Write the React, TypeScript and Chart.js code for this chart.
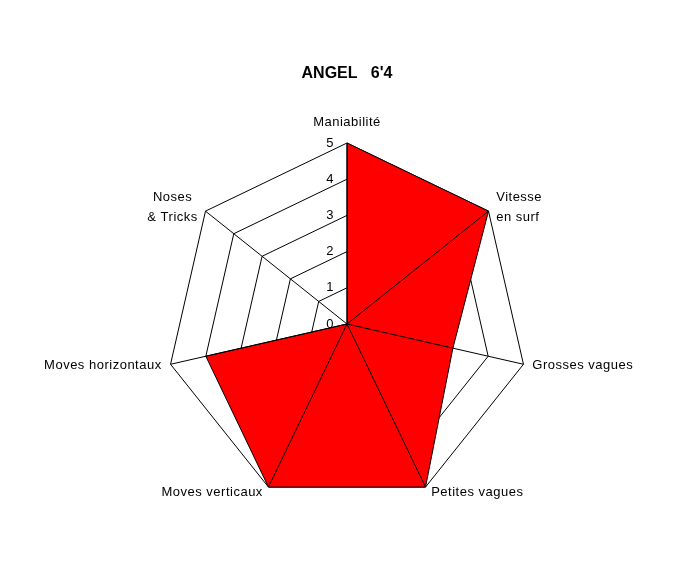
import React, { useEffect, useRef } from "react";
import { Chart, registerables } from "chart.js";

Chart.register(...registerables);

const TITLE = "ANGEL   6'4";
const CATEGORIES: string[][] = [
  ["Maniabilité"],
  ["Vitesse", "en surf"],
  ["Grosses vagues"],
  ["Petites vagues"],
  ["Moves verticaux"],
  ["Moves horizontaux"],
  ["Noses", "& Tricks"],
];
const VALUES = [5, 5, 3, 5, 5, 4, 0];
const TICKS = [0, 1, 2, 3, 4, 5];

const FONT = '"Liberation Sans", Arial, sans-serif';

const radarText = {
  id: "radarText",
  afterDatasetsDraw(chart: any) {
    // axis spokes drawn over the filled polygon
    const scale = chart.scales.r;
    const ctx = chart.ctx as CanvasRenderingContext2D;
    ctx.save();
    ctx.strokeStyle = "#000";
    ctx.lineWidth = 1;
    CATEGORIES.forEach((_, i) => {
      const p = scale.getPointPosition(i, scale.drawingArea);
      ctx.beginPath();
      ctx.moveTo(scale.xCenter, scale.yCenter);
      ctx.lineTo(p.x, p.y);
      ctx.stroke();
    });
    ctx.restore();
  },
  afterDraw(chart: any) {
    const scale = chart.scales.r;
    const ctx = chart.ctx as CanvasRenderingContext2D;
    ctx.save();
    ctx.fillStyle = "#000";
    ctx.font = `13px ${FONT}`;
    (ctx as any).letterSpacing = "0.5px";
    ctx.textBaseline = "middle";
    // tick labels along the first axis
    ctx.textAlign = "right";
    TICKS.forEach((t) => {
      const d = scale.getDistanceFromCenterForValue(t);
      const p = scale.getPointPosition(0, d);
      ctx.fillText(String(t), p.x - 13, p.y);
    });
    // category labels
    const lh = 20;
    CATEGORIES.forEach((lines, i) => {
      const v = scale.getPointPosition(i, scale.drawingArea);
      const a = scale.getIndexAngle(i);
      const s = Math.sin(a);
      const c = Math.cos(a);
      const n = lines.length;
      if (Math.abs(s) < 0.01) {
        const yMid = c > 0 ? v.y - 21 : v.y + 21;
        ctx.textAlign = "center";
        lines.forEach((ln, k) => {
          ctx.fillText(ln, v.x, yMid + (k - (n - 1) / 2) * lh);
        });
        return;
      }
      const x = v.x + s * 6 + Math.sign(s) * 3;
      const yMid = v.y - c * 6;
      if (s > 0) {
        ctx.textAlign = "left";
        lines.forEach((ln, k) => {
          ctx.fillText(ln, x, yMid + (k - (n - 1) / 2) * lh);
        });
      } else {
        const maxW = Math.max(...lines.map((ln) => ctx.measureText(ln).width));
        ctx.textAlign = "center";
        lines.forEach((ln, k) => {
          ctx.fillText(ln, x - maxW / 2, yMid + (k - (n - 1) / 2) * lh);
        });
      }
    });
    ctx.restore();
  },
};

export default function App() {
  const ref = useRef<HTMLCanvasElement | null>(null);
  useEffect(() => {
    if (!ref.current) return;
    Chart.defaults.font.family = FONT;
    const chart = new Chart(ref.current, {
      type: "radar",
      data: {
        labels: CATEGORIES,
        datasets: [
          {
            data: VALUES,
            backgroundColor: "#FF0000",
            borderColor: "#000000",
            borderWidth: 1,
            pointRadius: 0,
            pointHoverRadius: 0,
            fill: true,
          },
        ],
      },
      options: {
        animation: false,
        responsive: true,
        maintainAspectRatio: false,
        layout: { padding: { left: 158, right: 144, top: 56.4, bottom: 11.6 } },
        plugins: {
          legend: { display: false },
          tooltip: { enabled: false },
          title: {
            display: true,
            text: TITLE,
            color: "#000",
            font: { size: 16, weight: "bold", family: FONT, lineHeight: 1.2 },
            padding: { top: 0, bottom: 0 },
          },
        },
        scales: {
          r: {
            min: 0,
            max: 5,
            startAngle: 0,
            ticks: { display: false, stepSize: 1 },
            pointLabels: { display: false },
            grid: { color: "#000", lineWidth: 1 },
            angleLines: { display: false },
          },
        },
      },
      plugins: [radarText],
    } as any);
    return () => chart.destroy();
  }, []);
  return (
    <div style={{ width: 664, height: 568, position: "relative" }}>
      <canvas ref={ref} />
    </div>
  );
}
